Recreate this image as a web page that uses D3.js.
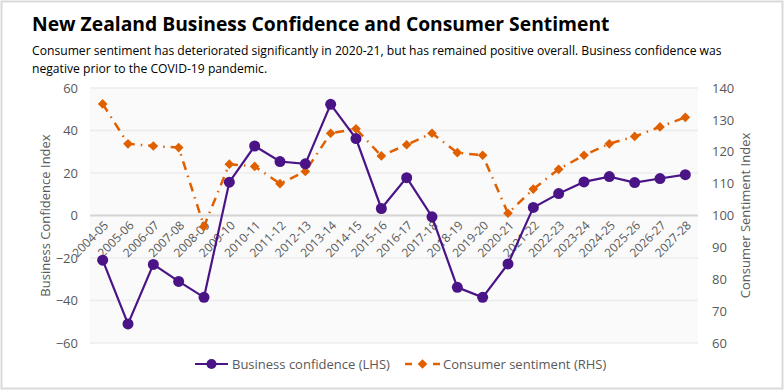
<!DOCTYPE html>
<html><head><meta charset="utf-8">
<script src="https://cdn.jsdelivr.net/npm/d3@7"></script>
<style>
body{margin:0;background:#fff;}
svg{display:block;font-family:"Open Sans","Noto Sans",sans-serif;}
</style></head>
<body>
<svg id="c" width="784" height="391"></svg>
<script>
const categories = ["2004-05","2005-06","2006-07","2007-08","2008-09","2009-10","2010-11","2011-12","2012-13","2013-14","2014-15","2015-16","2016-17","2017-18","2018-19","2019-20","2020-21","2021-22","2022-23","2023-24","2024-25","2025-26","2026-27","2027-28"];
const businessConfidence = [-21,-51,-23,-31,-38.5,15.7,32.7,25.4,24.3,52.3,36.2,3.3,17.8,-0.6,-33.8,-38.5,-22.8,3.8,10.3,15.8,18.3,15.5,17.4,19.2];
const consumerSentiment = [135,122.5,121.8,121.3,96.6,116.1,115.4,110,113.8,125.8,127.2,118.7,122.2,125.8,119.7,118.9,100.7,108.3,114.5,118.9,122.5,124.8,127.8,130.8];
const leftTicks = [-60,-40,-20,0,20,40,60];
const rightTicks = [60,70,80,90,100,110,120,130,140];
const titleText = "New Zealand Business Confidence and Consumer Sentiment";
const subtitleLines = ["Consumer sentiment has deteriorated significantly in 2020-21, but has remained positive overall. Business confidence was","negative prior to the COVID-19 pandemic."];
const seriesNames = ["Business confidence (LHS)","Consumer sentiment (RHS)"];

const svg = d3.select("#c");
const purple = "#4a1486", orange = "#e06000", grey = "#595959";

// border
svg.append("rect").attr("x",1.5).attr("y",1.5).attr("width",781).attr("height",387)
  .attr("fill","#fff").attr("stroke","#d9d9d9").attr("stroke-width",2);

function fitText(sel, target){
  const w = sel.node().getComputedTextLength();
  const fs = parseFloat(sel.attr("font-size"));
  sel.attr("font-size", (fs*target/w).toFixed(2));
}

const t = svg.append("text").attr("x",32).attr("y",31).attr("font-size",20).attr("font-weight",700)
  .attr("fill","#000").text(titleText);
fitText(t, 578);
const s1 = svg.append("text").attr("x",32).attr("y",55).attr("font-size",13).attr("fill","#000").text(subtitleLines[0]);
fitText(s1, 690);
const fs = s1.attr("font-size");
svg.append("text").attr("x",32).attr("y",73).attr("font-size",fs).attr("fill","#000").text(subtitleLines[1]);

const m = {l:90, r:698, t:88, b:343};
const x = d3.scaleBand().domain(categories).range([m.l,m.r]);
const yL = d3.scaleLinear().domain([-60,60]).range([m.b,m.t]);
const yR = d3.scaleLinear().domain([60,140]).range([m.b,m.t]);
const cx = d => x(d)+x.bandwidth()/2;

svg.append("rect").attr("x",m.l).attr("y",m.t).attr("width",m.r-m.l).attr("height",m.b-m.t).attr("fill","#fafafa");

// gridlines
svg.append("g").selectAll("line").data(leftTicks).join("line")
  .attr("x1",m.l).attr("x2",m.r).attr("y1",d=>yL(d)).attr("y2",d=>yL(d))
  .attr("stroke",d=>d===0?"#d4d4d4":"#ececec").attr("stroke-width",d=>d===0?2:1.5);

// left axis
const gL = svg.append("g").attr("transform",`translate(${m.l},0)`)
  .call(d3.axisLeft(yL).tickValues(leftTicks).tickSize(0).tickPadding(12));
gL.select(".domain").remove();
gL.selectAll("text").attr("font-size",13).attr("fill",grey).attr("font-family","Open Sans, sans-serif");

const gR = svg.append("g").attr("transform",`translate(${m.r},0)`)
  .call(d3.axisRight(yR).tickValues(rightTicks).tickSize(0).tickPadding(14));
gR.select(".domain").remove();
gR.selectAll("text").attr("font-size",13).attr("fill",grey).attr("font-family","Open Sans, sans-serif");

// x axis labels
const gX = svg.append("g").attr("transform",`translate(0,${yL(0)})`)
  .call(d3.axisBottom(x).tickSize(0).tickPadding(0));
gX.select(".domain").remove();
gX.selectAll("text").attr("font-size",12).attr("fill",grey).attr("font-family","Open Sans, sans-serif")
  .attr("text-anchor","end").attr("dy","0.3em")
  .attr("transform","translate(4,8) rotate(-45)");

// axis titles
svg.append("text").attr("transform",`translate(50,${(m.t+m.b)/2}) rotate(-90)`).attr("text-anchor","middle")
  .attr("font-size",13).attr("fill",grey).text("Business Confidence Index");
svg.append("text").attr("transform",`translate(750,${(m.t+m.b)/2}) rotate(-90)`).attr("text-anchor","middle")
  .attr("font-size",13).attr("fill",grey).text("Consumer Sentiment Index");

// consumer sentiment line
const lineR = d3.line().x((d,i)=>cx(categories[i])).y(d=>yR(d));
svg.append("path").datum(consumerSentiment).attr("d",lineR).attr("fill","none")
  .attr("stroke",orange).attr("stroke-width",2.5).attr("stroke-dasharray","9,6,1.5,6");
const diamond = d3.symbol().type(d3.symbolDiamond2).size(60);
svg.append("g").selectAll("path").data(consumerSentiment).join("path")
  .attr("d",diamond).attr("fill",orange)
  .attr("transform",(d,i)=>`translate(${cx(categories[i])},${yR(d)})`);

// business line
const lineL = d3.line().x((d,i)=>cx(categories[i])).y(d=>yL(d));
svg.append("path").datum(businessConfidence).attr("d",lineL).attr("fill","none")
  .attr("stroke",purple).attr("stroke-width",2.2);
svg.append("g").selectAll("circle").data(businessConfidence).join("circle")
  .attr("cx",(d,i)=>cx(categories[i])).attr("cy",d=>yL(d)).attr("r",5.5).attr("fill",purple);

// legend
const ly = 364;
const lg = svg.append("g");
lg.append("line").attr("x1",195).attr("x2",228).attr("y1",ly).attr("y2",ly).attr("stroke",purple).attr("stroke-width",2.2);
lg.append("circle").attr("cx",211.5).attr("cy",ly).attr("r",5).attr("fill",purple);
lg.append("text").attr("x",232).attr("y",ly).attr("dy","0.35em").attr("font-size",13).attr("fill",grey).text(seriesNames[0]);
lg.append("line").attr("x1",405).attr("x2",412).attr("y1",ly).attr("y2",ly).attr("stroke",orange).attr("stroke-width",2.5);
lg.append("line").attr("x1",433).attr("x2",440).attr("y1",ly).attr("y2",ly).attr("stroke",orange).attr("stroke-width",2.5);
lg.append("path").attr("d",diamond).attr("fill",orange).attr("transform",`translate(422.5,${ly})`);
lg.append("text").attr("x",443).attr("y",ly).attr("dy","0.35em").attr("font-size",13).attr("fill",grey).text(seriesNames[1]);
</script>
</body></html>
